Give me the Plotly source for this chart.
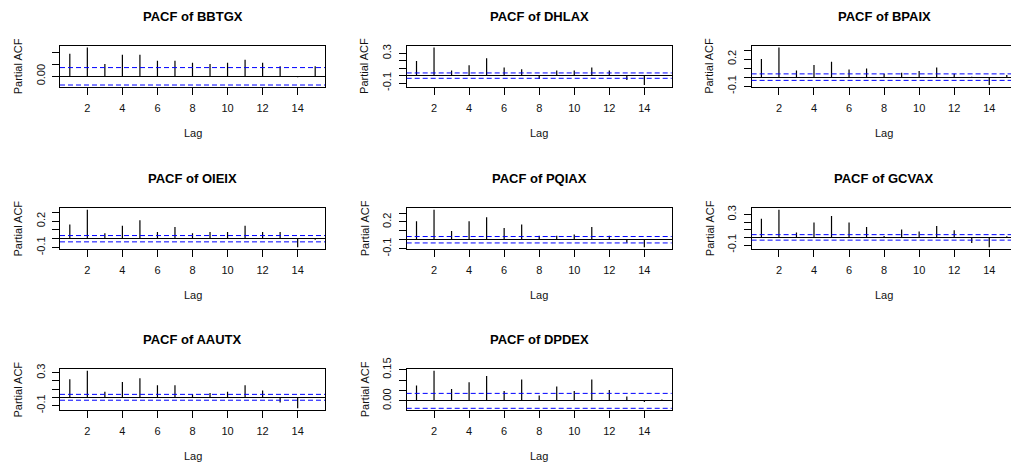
import plotly.graph_objects as go

# ---------------- data ----------------
lags = list(range(1, 16))
series_names = ["BBTGX", "DHLAX", "BPAIX", "OIEIX", "PQIAX", "GCVAX", "AAUTX", "DPDEX"]

pacf_bbtgx = [0.093, 0.119, 0.051, 0.089, 0.089, 0.064, 0.064, 0.056, 0.051, 0.056, 0.068, 0.056, 0.042, -0.004, 0.042]
pacf_dhlax = [0.198, 0.378, 0.068, 0.140, 0.234, 0.108, 0.086, -0.045, 0.068, 0.068, 0.108, 0.068, -0.059, -0.126, 0.010]
pacf_bpaix = [0.200, 0.328, 0.074, 0.133, 0.170, 0.085, 0.096, 0.037, 0.048, 0.067, 0.107, 0.037, 0.005, -0.087, 0.025]
pacf_oieix = [0.161, 0.330, 0.061, 0.149, 0.210, 0.077, 0.134, 0.061, 0.077, 0.077, 0.149, 0.077, 0.077, -0.098, -0.012]
pacf_pqiax = [0.208, 0.336, 0.098, 0.208, 0.253, 0.132, 0.170, 0.045, 0.045, 0.060, 0.143, 0.045, -0.034, -0.085, 0.005]
pacf_gcvax = [0.245, 0.362, 0.064, 0.195, 0.282, 0.195, 0.136, 0.018, 0.105, 0.077, 0.150, 0.095, -0.073, -0.130, 0.015]
pacf_aautx = [0.220, 0.325, 0.069, 0.188, 0.233, 0.147, 0.147, 0.041, 0.053, 0.069, 0.147, 0.082, -0.065, -0.135, 0.002]
pacf_dpdex = [0.074, 0.145, 0.057, 0.090, 0.120, 0.048, 0.103, 0.026, 0.069, 0.048, 0.103, 0.052, 0.021, -0.005, 0.007]

ci_bound = 0.036

x_tick_vals = [2, 4, 6, 8, 10, 12, 14]
x_tick_text = ["2", "4", "6", "8", "10", "12", "14"]

ytick_vals_bbtgx = [0.0, 0.05, 0.10]
ytick_text_bbtgx = ["0.00", "", ""]
ytick_vals_dhlax = [-0.1, 0.0, 0.1, 0.2, 0.3]
ytick_text_dhlax = ["-0.1", "", "", "", "0.3"]
ytick_vals_bpaix = [-0.1, 0.0, 0.1, 0.2, 0.3]
ytick_text_bpaix = ["-0.1", "", "", "0.2", ""]
ytick_vals_oieix = [-0.1, 0.0, 0.1, 0.2, 0.3]
ytick_text_oieix = ["-0.1", "", "", "0.2", ""]
ytick_vals_pqiax = [-0.1, 0.0, 0.1, 0.2, 0.3]
ytick_text_pqiax = ["-0.1", "", "", "0.2", ""]
ytick_vals_gcvax = [-0.1, 0.0, 0.1, 0.2, 0.3]
ytick_text_gcvax = ["-0.1", "", "", "", "0.3"]
ytick_vals_aautx = [-0.1, 0.0, 0.1, 0.2, 0.3]
ytick_text_aautx = ["-0.1", "", "", "", "0.3"]
ytick_vals_dpdex = [0.0, 0.05, 0.10, 0.15]
ytick_text_dpdex = ["0.00", "", "", "0.15"]

all_values = [pacf_bbtgx, pacf_dhlax, pacf_bpaix, pacf_oieix, pacf_pqiax, pacf_gcvax, pacf_aautx, pacf_dpdex]
all_ytick_vals = [ytick_vals_bbtgx, ytick_vals_dhlax, ytick_vals_bpaix, ytick_vals_oieix,
                  ytick_vals_pqiax, ytick_vals_gcvax, ytick_vals_aautx, ytick_vals_dpdex]
all_ytick_text = [ytick_text_bbtgx, ytick_text_dhlax, ytick_text_bpaix, ytick_text_oieix,
                  ytick_text_pqiax, ytick_text_gcvax, ytick_text_aautx, ytick_text_dpdex]

# ---------------- layout geometry (pixels) ----------------
W, H = 1011, 466
col_left = [60.0, 406.7, 751.6]
box_w = 265.0
row_top = [46.0, 208.3, 369.3]
box_h = 40.5
FONT = "Liberation Sans, Arial, sans-serif"

x_lo = min(lags) - 0.04 * (max(lags) - min(lags))
x_hi = max(lags) + 0.04 * (max(lags) - min(lags))

fig = go.Figure()
layout_axes = {}
annotations = []
shapes = []

for i, (name, vals) in enumerate(zip(series_names, all_values)):
    r, c = divmod(i, 3)
    n = i + 1
    xa = "xaxis" if n == 1 else f"xaxis{n}"
    ya = "yaxis" if n == 1 else f"yaxis{n}"
    xr = "x" if n == 1 else f"x{n}"
    yr = "y" if n == 1 else f"y{n}"

    x0 = col_left[c]
    x1 = min(x0 + box_w, W)
    frac = (x1 - x0) / box_w
    xdom = [x0 / W, x1 / W]
    ydom = [1 - (row_top[r] + box_h) / H, 1 - row_top[r] / H]

    lo0 = min(min(vals), -ci_bound)
    hi0 = max(max(vals), ci_bound)
    ext = 0.04 * (hi0 - lo0)
    yrange = [lo0 - ext, hi0 + ext]

    # stems
    sx, sy = [], []
    for k, v in zip(lags, vals):
        sx += [k, k, None]
        sy += [0, v, None]
    fig.add_trace(go.Scatter(x=sx, y=sy, mode="lines", xaxis=xr, yaxis=yr,
                             line=dict(color="black", width=1.2), hoverinfo="skip",
                             showlegend=False))

    layout_axes[xa] = dict(domain=xdom, range=[x_lo, x_lo + (x_hi - x_lo) * frac],
                           anchor=yr, showgrid=False, zeroline=False, automargin=False,
                           showline=True, linecolor="black", linewidth=1, mirror=True,
                           ticks="outside", ticklen=7, tickcolor="black", tickwidth=1,
                           tickvals=x_tick_vals, ticktext=x_tick_text,
                           ticklabelstandoff=4,
                           tickfont=dict(family=FONT, size=11, color="#111"))
    layout_axes[ya] = dict(domain=ydom, range=yrange, anchor=xr, showgrid=False,
                           zeroline=True, zerolinecolor="black", zerolinewidth=1,
                           automargin=False,
                           showline=True, linecolor="black", linewidth=1,
                           mirror=(c != 2),
                           ticks="outside", ticklen=7, tickcolor="black", tickwidth=1,
                           tickvals=all_ytick_vals[i], ticktext=all_ytick_text[i],
                           tickangle=-90, ticklabelstandoff=3,
                           tickfont=dict(family=FONT, size=11, color="#111"))

    # confidence bounds
    for b in (ci_bound, -ci_bound):
        shapes.append(dict(type="line", xref=f"{xr} domain", yref=yr, x0=0, x1=1, y0=b, y1=b,
                           line=dict(color="#0000FF", width=1, dash="5px,3px"), layer="above"))

    xc = 0.5 / frac
    annotations.append(dict(text=f"<b>PACF of {name}</b>", xref=f"{xr} domain", yref=f"{yr} domain",
                            x=xc, y=1, yshift=30, xanchor="center", yanchor="middle",
                            showarrow=False, font=dict(family=FONT, size=13, color="black")))
    annotations.append(dict(text="Lag", xref=f"{xr} domain", yref=f"{yr} domain",
                            x=xc, y=0, yshift=-46.5, xanchor="center", yanchor="middle",
                            showarrow=False, font=dict(family=FONT, size=11, color="#111")))
    annotations.append(dict(text="Partial ACF", xref=f"{xr} domain", yref=f"{yr} domain",
                            x=0, y=0.5, xshift=-42, xanchor="center", yanchor="middle",
                            textangle=-90, showarrow=False,
                            font=dict(family=FONT, size=11, color="#111")))

fig.update_layout(width=W, height=H,
                  margin=dict(l=0, r=0, t=0, b=0, pad=0, autoexpand=False),
                  paper_bgcolor="white", plot_bgcolor="white",
                  font=dict(family=FONT, size=11, color="black"),
                  showlegend=False, annotations=annotations, shapes=shapes,
                  **layout_axes)

fig.write_html("out.html")
